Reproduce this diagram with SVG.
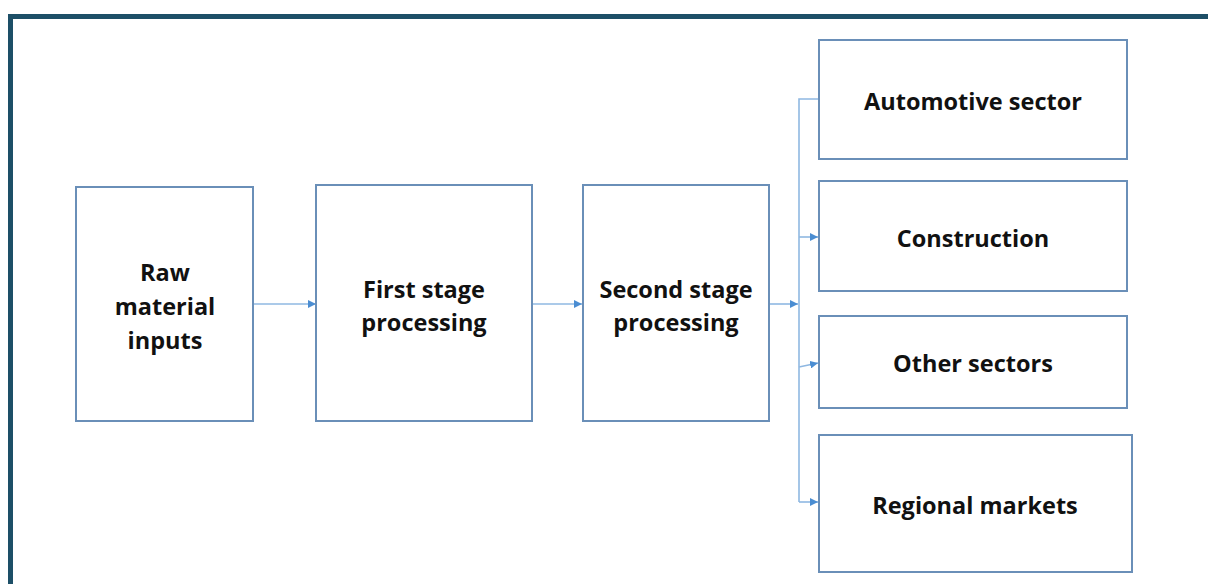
<svg xmlns="http://www.w3.org/2000/svg" width="1208" height="584" viewBox="0 0 1208 584">
<defs>
<style>
.box{fill:#ffffff;stroke:#6a8fb8;stroke-width:2}
.lbl{font-family:"Open Sans","Liberation Sans",Arial,sans-serif;font-weight:bold;font-size:23.5px;fill:#111111;text-anchor:middle;dominant-baseline:central}
.conn{fill:none;stroke:#8fb8e2;stroke-width:1.6}
</style>
<marker id="arr" viewBox="0 0 10 10" refX="10" refY="5" markerWidth="8" markerHeight="8" markerUnits="userSpaceOnUse" orient="auto">
<path d="M0,0 L10,5 L0,10 z" fill="#4a8dd2"/>
</marker>
</defs>
<rect x="0" y="0" width="1208" height="584" fill="#ffffff"/>
<path d="M10.5,584 V16.5 H1208" fill="none" stroke="#1d4f67" stroke-width="5"/>
<g id="connectors">
<line class="conn" x1="254" y1="304" x2="316" y2="304" marker-end="url(#arr)"/>
<line class="conn" x1="533" y1="304" x2="582" y2="304" marker-end="url(#arr)"/>
<line class="conn" x1="770" y1="304" x2="798" y2="304" marker-end="url(#arr)"/>
<path class="conn" d="M819,99 H799 V502"/>
<line class="conn" x1="799" y1="237" x2="818" y2="237" marker-end="url(#arr)"/>
<line class="conn" x1="799" y1="367" x2="818" y2="363" marker-end="url(#arr)"/>
<line class="conn" x1="799" y1="502" x2="818" y2="502" marker-end="url(#arr)"/>
</g>
<g id="raw">
<rect class="box" x="76" y="187" width="177" height="234"/>
<text class="lbl" x="165" y="272">Raw</text>
<text class="lbl" x="165" y="306">material</text>
<text class="lbl" x="165" y="340">inputs</text>
</g>
<g id="first">
<rect class="box" x="316" y="185" width="216" height="236"/>
<text class="lbl" x="424" y="289">First stage</text>
<text class="lbl" x="424" y="322">processing</text>
</g>
<g id="second">
<rect class="box" x="583" y="185" width="186" height="236"/>
<text class="lbl" x="676" y="289">Second stage</text>
<text class="lbl" x="676" y="322">processing</text>
</g>
<g id="automotive">
<rect class="box" x="819" y="40" width="308" height="119"/>
<text class="lbl" x="973" y="101">Automotive sector</text>
</g>
<g id="construction">
<rect class="box" x="819" y="181" width="308" height="110"/>
<text class="lbl" x="973" y="238">Construction</text>
</g>
<g id="other">
<rect class="box" x="819" y="316" width="308" height="92"/>
<text class="lbl" x="973" y="363">Other sectors</text>
</g>
<g id="regional">
<rect class="box" x="819" y="435" width="313" height="137"/>
<text class="lbl" x="975" y="505">Regional markets</text>
</g>
</svg>
